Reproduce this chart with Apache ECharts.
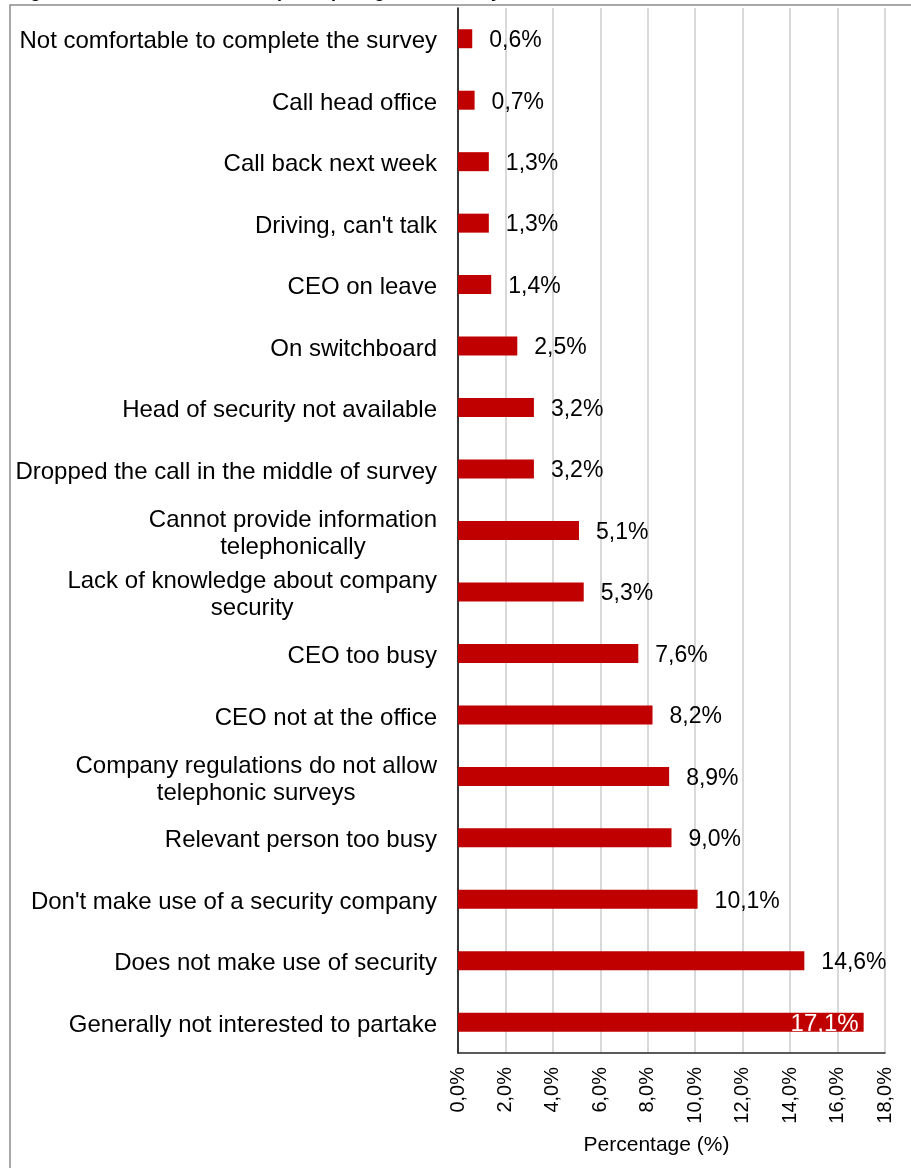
<!DOCTYPE html>
<html>
<head>
<meta charset="utf-8">
<script src="https://cdn.jsdelivr.net/npm/echarts@6/dist/echarts.min.js"></script>
<style>
html,body{margin:0;padding:0;background:#fff;}
#chart{width:911px;height:1168px;}
</style>
</head>
<body>
<div id="chart"></div>
<script>
const categories = [
  "Not comfortable to complete the survey",
  "Call head office",
  "Call back next week",
  "Driving, can't talk",
  "CEO on leave",
  "On switchboard",
  "Head of security not available",
  "Dropped the call in the middle of survey",
  "Cannot provide information\ntelephonically",
  "Lack of knowledge about company\nsecurity",
  "CEO too busy",
  "CEO not at the office",
  "Company regulations do not allow\ntelephonic surveys",
  "Relevant person too busy",
  "Don't make use of a security company",
  "Does not make use of security",
  "Generally not interested to partake"
];
const values = [0.6, 0.7, 1.3, 1.3, 1.4, 2.5, 3.2, 3.2, 5.1, 5.3, 7.6, 8.2, 8.9, 9.0, 10.1, 14.6, 17.1];
const xTicks = [0, 2, 4, 6, 8, 10, 12, 14, 16, 18];
const axisTitle = "Percentage (%)";
const figureTitle = "Figure 4: Main reasons for not participating in the survey";

const FONT = "'Liberation Sans', Arial, sans-serif";
const fmt = v => v.toFixed(1).replace('.', ',') + '%';

const seriesData = values.map((v, i) => {
  if (i === values.length - 1) {
    return { value: v, label: { position: 'insideRight', color: '#ffffff', distance: 5, fontSize: 24 } };
  }
  return v;
});

const chart = echarts.init(document.getElementById('chart'), null, { renderer: 'canvas' });
chart.setOption({
  backgroundColor: '#ffffff',
  animation: false,
  textStyle: { fontFamily: FONT },
  grid: { left: 458, right: 26, top: 8, bottom: 115, containLabel: false },
  xAxis: {
    type: 'value',
    min: xTicks[0],
    max: xTicks[xTicks.length - 1],
    interval: xTicks[1] - xTicks[0],
    axisLine: { show: true, lineStyle: { color: '#262626', width: 1.5 } },
    axisTick: { show: false },
    splitLine: { show: true, lineStyle: { color: '#d9d9d9', width: 2 } },
    axisLabel: {
      rotate: 90,
      margin: 14,
      fontSize: 20,
      color: '#000',
      fontFamily: FONT,
      formatter: v => fmt(v)
    },
    name: axisTitle,
    nameLocation: 'middle',
    nameGap: 82,
    nameTextStyle: { fontSize: 21, color: '#000', fontFamily: FONT, padding: [0, 30, 0, 0] }
  },
  yAxis: {
    type: 'category',
    inverse: true,
    data: categories,
    axisLine: { show: true, lineStyle: { color: '#000', width: 1.5 } },
    axisTick: { show: false },
    splitLine: { show: false },
    axisLabel: {
      margin: 21,
      color: '#000',
      fontSize: 24,
      fontFamily: FONT,
      padding: [6, 0, 0, 0],
      formatter: v => v.split('\n').map(s => '{c|' + s + '}').join('\n'),
      rich: { c: { align: 'center', fontSize: 24, lineHeight: 27, color: '#000', fontFamily: FONT } }
    }
  },
  series: [{
    type: 'bar',
    data: seriesData,
    barWidth: 19,
    itemStyle: { color: '#c00000' },
    label: {
      show: true,
      position: 'right',
      distance: 17,
      fontSize: 23,
      color: '#000',
      fontFamily: FONT,
      offset: [0, 2],
      formatter: p => fmt(p.value)
    }
  }],
  graphic: [
    {
      type: 'text',
      left: 14,
      top: -17,
      z: 1,
      style: { text: figureTitle, font: "bold 18px 'Liberation Sans', Arial, sans-serif", fill: '#000' }
    },
    {
      type: 'polyline',
      z: 10,
      shape: { points: [[10, 1168], [10, 5], [911, 5]] },
      style: { stroke: '#8c8c8c', lineWidth: 1.5, fill: null }
    }
  ]
});
</script>
</body>
</html>
